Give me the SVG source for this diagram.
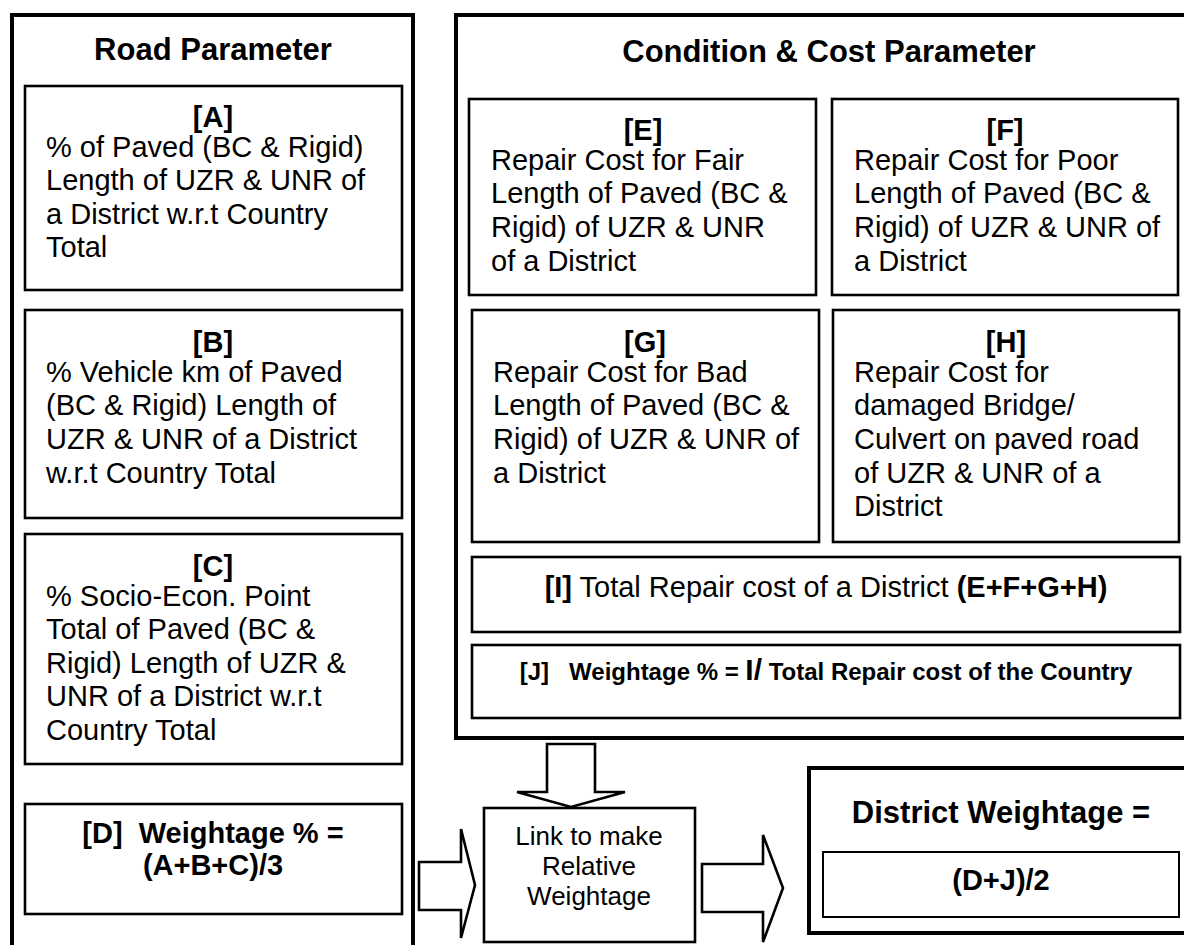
<svg xmlns="http://www.w3.org/2000/svg" width="1184" height="945" viewBox="0 0 1184 945">
  <style>
    text { font-family: "Liberation Sans", Arial, sans-serif; fill: #000; }
    .outer { fill: none; stroke: #000; stroke-width: 4; }
    .box { fill: #fff; stroke: #000; stroke-width: 2.6; }
    .thin { fill: #fff; stroke: #000; stroke-width: 2; }
    .arrow { fill: #fff; stroke: #000; stroke-width: 2.6; stroke-linejoin: miter; }
    .title { font-size: 31px; font-weight: bold; text-anchor: middle; }
    .body { font-size: 29px; }
    .tag { font-size: 29px; font-weight: bold; text-anchor: middle; }
    .b { font-weight: bold; }
  </style>
  <rect width="1184" height="945" fill="#fff"/>

  <!-- Road parameter column -->
  <g id="road-parameter">
    <rect class="outer" x="12" y="15" width="401" height="960"/>
    <text class="title" x="213" y="60">Road Parameter</text>
  </g>

  <g id="node-a">
    <rect class="box" x="25" y="86" width="377" height="204"/>
    <text class="tag" x="213" y="127">[A]</text>
    <text class="body" x="46">
      <tspan x="46" y="157">% of Paved (BC &amp; Rigid)</tspan>
      <tspan x="46" y="190">Length of UZR &amp; UNR of</tspan>
      <tspan x="46" y="224">a District w.r.t Country</tspan>
      <tspan x="46" y="257">Total</tspan>
    </text>
  </g>

  <g id="node-b">
    <rect class="box" x="25" y="310" width="377" height="208"/>
    <text class="tag" x="213" y="352">[B]</text>
    <text class="body">
      <tspan x="46" y="382">% Vehicle km of Paved</tspan>
      <tspan x="46" y="415">(BC &amp; Rigid) Length of</tspan>
      <tspan x="46" y="449">UZR &amp; UNR of a District</tspan>
      <tspan x="46" y="483">w.r.t Country Total</tspan>
    </text>
  </g>

  <g id="node-c">
    <rect class="box" x="25" y="534" width="377" height="230"/>
    <text class="tag" x="213" y="576">[C]</text>
    <text class="body">
      <tspan x="46" y="606">% Socio-Econ. Point</tspan>
      <tspan x="46" y="639">Total of Paved (BC &amp;</tspan>
      <tspan x="46" y="673">Rigid) Length of UZR &amp;</tspan>
      <tspan x="46" y="706">UNR of a District w.r.t</tspan>
      <tspan x="46" y="740">Country Total</tspan>
    </text>
  </g>

  <g id="node-d">
    <rect class="box" x="25" y="804" width="377" height="110"/>
    <text class="tag" x="213" y="843" xml:space="preserve">[D]  Weightage % =</text>
    <text class="tag" x="213" y="875">(A+B+C)/3</text>
  </g>

  <!-- Condition and cost column -->
  <g id="condition-cost">
    <rect class="outer" x="456" y="15" width="760" height="723"/>
    <text class="title" x="829" y="62">Condition &amp; Cost Parameter</text>
  </g>

  <g id="node-e">
    <rect class="box" x="469" y="99" width="347" height="196"/>
    <text class="tag" x="643" y="140">[E]</text>
    <text class="body">
      <tspan x="491" y="170">Repair Cost for Fair</tspan>
      <tspan x="491" y="203">Length of Paved (BC &amp;</tspan>
      <tspan x="491" y="237">Rigid) of UZR &amp; UNR</tspan>
      <tspan x="491" y="271">of a District</tspan>
    </text>
  </g>

  <g id="node-f">
    <rect class="box" x="832" y="99" width="346" height="196"/>
    <text class="tag" x="1005" y="140">[F]</text>
    <text class="body">
      <tspan x="854" y="170">Repair Cost for Poor</tspan>
      <tspan x="854" y="203">Length of Paved (BC &amp;</tspan>
      <tspan x="854" y="237">Rigid) of UZR &amp; UNR of</tspan>
      <tspan x="854" y="271">a District</tspan>
    </text>
  </g>

  <g id="node-g">
    <rect class="box" x="472" y="310" width="347" height="232"/>
    <text class="tag" x="645" y="352">[G]</text>
    <text class="body">
      <tspan x="493" y="382">Repair Cost for Bad</tspan>
      <tspan x="493" y="415">Length of Paved (BC &amp;</tspan>
      <tspan x="493" y="449">Rigid) of UZR &amp; UNR of</tspan>
      <tspan x="493" y="483">a District</tspan>
    </text>
  </g>

  <g id="node-h">
    <rect class="box" x="833" y="310" width="346" height="232"/>
    <text class="tag" x="1006" y="352">[H]</text>
    <text class="body">
      <tspan x="854" y="382">Repair Cost for</tspan>
      <tspan x="854" y="415">damaged Bridge/</tspan>
      <tspan x="854" y="449">Culvert on paved road</tspan>
      <tspan x="854" y="483">of UZR &amp; UNR of a</tspan>
      <tspan x="854" y="516">District</tspan>
    </text>
  </g>

  <g id="node-i">
    <rect class="box" x="472" y="557" width="708" height="75"/>
    <text class="body" x="826" y="597" text-anchor="middle"><tspan class="b">[I]</tspan> Total Repair cost of a District <tspan class="b">(E+F+G+H)</tspan></text>
  </g>

  <g id="node-j">
    <rect class="box" x="472" y="645" width="708" height="73"/>
    <text x="826" y="680" text-anchor="middle" font-size="24" font-weight="bold" xml:space="preserve">[J]   Weightage % = <tspan font-size="30">I/</tspan> Total Repair cost of the Country</text>
  </g>

  <g id="node-link">
    <rect class="box" x="484" y="808" width="211" height="134" stroke-width="3"/>
    <text x="589" y="845" font-size="26" text-anchor="middle">Link to make</text>
    <text x="589" y="875" font-size="26" text-anchor="middle">Relative</text>
    <text x="589" y="905" font-size="26" text-anchor="middle">Weightage</text>
  </g>

  <g id="node-district">
    <rect class="outer" x="809" y="768" width="420" height="165"/>
    <text class="title" x="1001" y="823">District Weightage =</text>
    <rect class="thin" x="823" y="852" width="356" height="65"/>
    <text class="tag" x="1001" y="890">(D+J)/2</text>
  </g>

  <!-- Block arrows joining the parameters -->
  <g id="connectors">
    <polygon class="arrow" points="547,744 595,744 595,792 625,792 571,807 517,792 547,792"/>
    <polygon class="arrow" points="419,862 461,862 461,829 475,885 461,938 461,910 419,910"/>
    <polygon class="arrow" points="702,864 763,864 763,835 783,888 763,942 763,912 702,912"/>
  </g>
</svg>
